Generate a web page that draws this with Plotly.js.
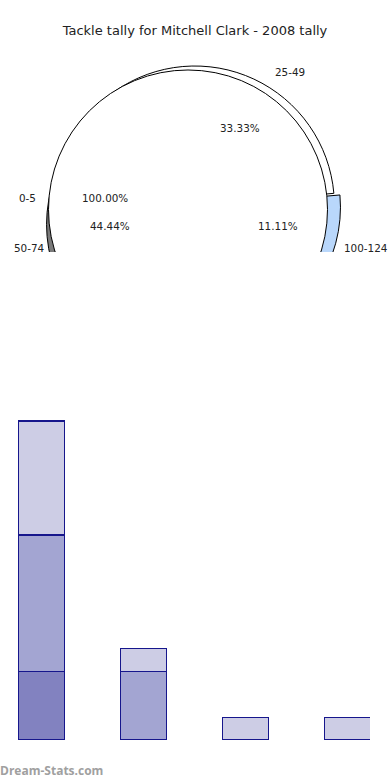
<!DOCTYPE html>
<html><head><meta charset="utf-8">
<script src="https://cdn.plot.ly/plotly-3.0.1.min.js"></script>
<style>html,body{margin:0;padding:0;background:#fff}#chart{width:390px;height:780px}</style>
</head><body><div id="chart"></div>
<script>
// ---- data ----
const chartTitle = 'Tackle tally for Mitchell Clark - 2008 tally';
const pieLabels = ['25-49', '100-124', '50-74', '0-5'];
const pieValues = [3, 1, 4, 1];
const frontLabels = ['0-5'];
const frontValues = [1];
const barCategories = ['1', '2', '3', '4'];
const barDark = [3, null, null, null];
const barMedium = [6, 3, null, null];
const barLight = [5, 1, 1, 1];
const watermark = 'Dream-Stats.com';

// ---- styles / layout ----
const W = 390, H = 780;
const px = v => v / W, py = v => 1 - v / H;
const pieColors = ['#ffffff', '#b9d7fb', '#7a7a7a', '#dddddd'];
const piePulls = [0, 0.045, 0.15, 0];
const CX = 188, CY = 209.5, R = 139.5;
const BX = CX + 6.9, BY = CY - 4;        // back pie centre, shifted up-right
const maxPull = Math.max(...piePulls);
const RB = R * (1 + maxPull);
const labelFont = {family: 'DejaVu Sans', size: 10.4, color: '#222'};
// label placement (pixel positions in the picture)
const outsidePos = {'25-49': [290, 72], '0-5': [27, 198], '50-74': [29, 248], '100-124': [366, 248]};
const insidePos = {'25-49': [240, 128], '50-74': [110, 226], '100-124': [278, 226]};
const frontInsidePos = [105, 198];

const backPie = {
  type: 'pie', labels: pieLabels, values: pieValues, sort: false,
  direction: 'clockwise', rotation: -35, pull: piePulls,
  marker: {colors: pieColors, line: {color: '#000', width: 1}},
  textinfo: 'none', hoverinfo: 'skip', showlegend: false,
  domain: {x: [px(BX - RB), px(BX + RB)], y: [py(BY + RB), py(BY - RB)]}
};
const frontPie = {
  type: 'pie', labels: frontLabels, values: frontValues, sort: false,
  direction: 'clockwise', rotation: 90,
  marker: {colors: ['#ffffff'], line: {color: '#000', width: 1}},
  textinfo: 'none', hoverinfo: 'skip', showlegend: false,
  domain: {x: [px(CX - R), px(CX + R)], y: [py(CY + R), py(CY - R)]}
};

const lineCol = 'rgb(22,22,140)';
function barTrace(vals, color) {
  return {type: 'bar', x: barCategories, y: vals, marker: {color: color, line: {color: lineCol, width: 1.3}},
    hoverinfo: 'skip', showlegend: false};
}
const bars = [barTrace(barDark, '#8282c0'), barTrace(barMedium, '#a3a5d2'), barTrace(barLight, '#cdcde5')];

const pieSum = pieValues.reduce((a, b) => a + b, 0);
const frontSum = frontValues.reduce((a, b) => a + b, 0);
const annotations = [];
function ann(text, p, extra) {
  annotations.push(Object.assign({text: text, x: px(p[0]), y: py(p[1]), xref: 'paper', yref: 'paper',
    xanchor: 'center', yanchor: 'middle', showarrow: false, font: labelFont}, extra || {}));
}
pieLabels.forEach((l, i) => {
  if (outsidePos[l]) ann(l, outsidePos[l]);
  if (insidePos[l]) ann((pieValues[i] / pieSum * 100).toFixed(2) + '%', insidePos[l]);
});
ann((frontValues[0] / frontSum * 100).toFixed(2) + '%', frontInsidePos);
ann(watermark, [0, 770], {xanchor: 'left', xshift: -2, font: {family: 'Open Sans', size: 12, color: '#a0a0a0', weight: 'bold'}});

const layout = {
  width: W, height: H, margin: {l: 0, r: 0, t: 0, b: 0}, paper_bgcolor: '#fff', plot_bgcolor: 'rgba(0,0,0,0)',
  title: {text: chartTitle, x: 0.5, xanchor: 'center', xref: 'paper', y: py(30), yanchor: 'middle',
    font: {family: 'DejaVu Sans', size: 13, color: '#222'}},
  barmode: 'stack', bargap: 0.549,
  xaxis: {type: 'category', domain: [0, px(370)], range: [-41.5 / 102, (370 - 41.5) / 102],
    showgrid: false, zeroline: false, showticklabels: false, showline: false, ticks: ''},
  yaxis: {domain: [py(740), py(398)], range: [0, (740 - 398) / 22.79],
    showgrid: false, zeroline: false, showticklabels: false, showline: false, ticks: ''},
  shapes: [{type: 'rect', xref: 'paper', yref: 'paper', x0: -0.05, x1: 1.05, y0: py(400), y1: py(252),
    fillcolor: '#fff', line: {width: 0}, layer: 'above'}],
  annotations: annotations
};
Plotly.newPlot('chart', [backPie, frontPie].concat(bars), layout, {staticPlot: true, displayModeBar: false});
</script></body></html>
